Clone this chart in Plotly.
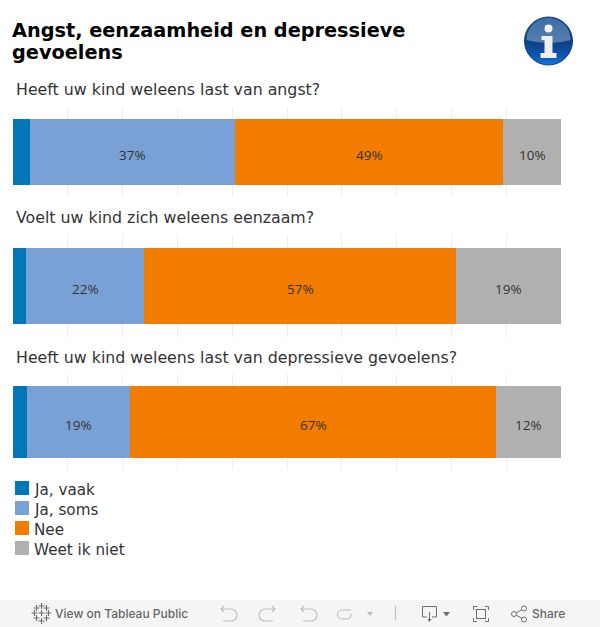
import base64
import plotly.graph_objects as go

TITLE_LINES = ["Angst, eenzaamheid en depressieve", "gevoelens"]
QUESTIONS = ["Heeft uw kind weleens last van angst?",
             "Voelt uw kind zich weleens eenzaam?",
             "Heeft uw kind weleens last van depressieve gevoelens?"]
SERIES = ["Ja, vaak", "Ja, soms", "Nee", "Weet ik niet"]
ja_vaak = [3.1, 2.4, 2.6]
ja_soms = [37.4, 21.5, 18.8]
nee = [49.0, 57.0, 66.8]
weet_niet = [10.5, 19.1, 11.8]
label_vaak = ["", "", ""]
label_soms = ["37%", "22%", "19%"]
label_nee = ["49%", "57%", "67%"]
label_weet = ["10%", "19%", "12%"]
COLORS = ["#0077B8", "#7AA1D6", "#F17C00", "#B0B0B0"]

W, H = 600, 627
PANELS = [(108, 196, 89), (235, 337, 217), (374, 470, 357)]  # top, bottom, question y
values = [ja_vaak, ja_soms, nee, weet_niet]
labels = [label_vaak, label_soms, label_nee, label_weet]


def py(v):
    return 1 - v / H


def svg_uri(body, w, h):
    s = f'<svg xmlns="http://www.w3.org/2000/svg" width="{w}" height="{h}" viewBox="0 0 {w} {h}">{body}</svg>'
    return "data:image/svg+xml;base64," + base64.b64encode(s.encode()).decode()


fig = go.Figure()
layout_axes = {}
ann = []
for p, (top, bot, _) in enumerate(PANELS):
    sfx = "" if p == 0 else str(p + 1)
    start = 0
    for s, name in enumerate(SERIES):
        val = values[s][p]
        fig.add_trace(go.Bar(
            x=[val], y=[QUESTIONS[p]], name=name, orientation="h",
            marker=dict(color=COLORS[s], line=dict(width=0)),
            customdata=[labels[s][p]],
            xaxis="x" + sfx, yaxis="y" + sfx, showlegend=False,
            hovertemplate="%{y}<br>" + name + ": %{customdata}<extra></extra>"))
        if labels[s][p]:
            ann.append(dict(x=start + val / 2, y=QUESTIONS[p], xref="x" + sfx, yref="y" + sfx,
                            text=labels[s][p], showarrow=False, yshift=-3, xanchor="center",
                            yanchor="middle",
                            font=dict(family="Open Sans", size=13.5, color="#333333")))
        start += val
    layout_axes["xaxis" + sfx] = dict(
        domain=[13 / W, 561 / W], range=[0, 100], dtick=10, showgrid=True,
        gridcolor="#EDEDED", gridwidth=1, showticklabels=False, zeroline=False,
        showline=False, ticks="", anchor="y" + sfx)
    layout_axes["yaxis" + sfx] = dict(
        domain=[py(bot), py(top)], showticklabels=False, showgrid=False,
        zeroline=False, showline=False, ticks="", anchor="x" + sfx)


def text(x, y, t, size, color, family="DejaVu Sans", weight=None):
    f = dict(family=family, size=size, color=color)
    if weight:
        f["weight"] = weight
    ann.append(dict(x=x / W, y=py(y), xref="paper", yref="paper", text=t, showarrow=False,
                    xanchor="left", yanchor="middle", font=f, borderpad=0))


text(11, 30, f"<b>{TITLE_LINES[0]}</b>", 19.3, "#000000")
text(11, 52.6, f"<b>{TITLE_LINES[1]}</b>", 19.3, "#000000")
for q, (_, _, y) in zip(QUESTIONS, PANELS):
    text(15, y + 0.5, q, 15.8, "#333333")

shapes = []
for i, name in enumerate(SERIES):
    top = 481 + 20 * i
    shapes.append(dict(type="rect", xref="paper", yref="paper", x0=15 / W, x1=29 / W,
                       y0=py(top + 14), y1=py(top), fillcolor=COLORS[i], line=dict(width=0)))
    text(33, top + 9, name, 15.2, "#333333")

# toolbar
shapes.insert(0, dict(type="rect", xref="paper", yref="paper", x0=0, x1=1, y0=0, y1=py(600),
                      fillcolor="#F5F5F5", line=dict(width=0), layer="below"))
text(54, 613.5, "View on Tableau Public", 12, "#666666", family="Inter", weight=500)
text(531, 613.5, "Share", 12, "#666666", family="Inter", weight=500)

info_svg = '''<defs>
<linearGradient id="g" x1="0" y1="0" x2="0" y2="1">
<stop offset="0" stop-color="#1D5596"/><stop offset="0.55" stop-color="#0B4389"/>
<stop offset="0.85" stop-color="#0A5AB8"/><stop offset="1" stop-color="#0B7CE6"/></linearGradient>
<linearGradient id="h" x1="0" y1="0" x2="0" y2="1">
<stop offset="0" stop-color="#FFFFFF" stop-opacity="0.15"/><stop offset="1" stop-color="#FFFFFF" stop-opacity="0.32"/></linearGradient>
<filter id="b"><feGaussianBlur stdDeviation="0.4"/></filter></defs>
<g filter="url(#b)">
<circle cx="25" cy="25" r="24" fill="url(#g)" stroke="#123F78" stroke-width="1"/>
<path d="M3 24A22 22 0 0 1 47 24Q25 30 3 24Z" fill="url(#h)"/>
<circle cx="25" cy="12.5" r="4" fill="#F2F2F2"/>
<path d="M18 20H29V37H33V42H17V37H21V24H18Z" fill="#EEEEEE"/></g>'''

g = "#BDBDBD"
d = "#6E6E6E"
star = "".join(f'<path d="M{x} {y-3}V{y+3}M{x-3} {y}H{x+3}" stroke="{d}" stroke-width="1.1" fill="none"/>'
               for x, y in [(41.5, 13), (41.5, 6), (41.5, 21), (34.5, 13), (48.5, 13), (36.5, 8), (46.5, 8), (36.5, 18), (46.5, 18)])
toolbar_svg = star + f'''
<g fill="none" stroke="{g}" stroke-width="1.1">
<path d="M221 9H231A5.5 5.5 0 0 1 231 21H223M224 6L221 9L224 12"/>
<path d="M275 9H265A5.5 5.5 0 0 0 265 21H273M272 6L275 9L272 12"/>
<path d="M301 9H311A5.5 5.5 0 0 1 311 21H303M304 6L301 9L304 12"/>
<path d="M351 10H342A4.5 4.5 0 0 0 342 19H347A4.5 4.5 0 0 0 351 14"/>
<path d="M395.5 6V20"/></g>
<path d="M367 12H373L370 16Z" fill="{g}"/>
<g fill="none" stroke="{d}" stroke-width="1">
<path d="M427 17H422.5V6.5H436.5V17H432M429.5 12V21"/>
<path d="M477 6.5H473.5V10M485 6.5H488.5V10M477 21.5H473.5V18M485 21.5H488.5V18"/>
<rect x="476.5" y="9.5" width="9" height="9"/>
<circle cx="514" cy="14" r="2.5"/><circle cx="524" cy="8.5" r="2.5"/><circle cx="524" cy="19.5" r="2.5"/>
<path d="M516.3 12.8L521.8 9.7M516.3 15.2L521.8 18.3"/></g>
<path d="M427.5 19H431.5L429.5 22Z" fill="{d}"/>
<path d="M443 12H450L446.5 16.5Z" fill="{d}"/>'''

images = [
    dict(source=svg_uri(info_svg, 50, 50), xref="paper", yref="paper", x=523.5 / W, y=py(16),
         sizex=50 / W, sizey=50 / H, xanchor="left", yanchor="top", sizing="stretch", layer="above"),
    dict(source=svg_uri(toolbar_svg, 600, 27), xref="paper", yref="paper", x=0, y=py(600),
         sizex=1, sizey=27 / H, xanchor="left", yanchor="top", sizing="stretch", layer="above"),
]

fig.update_layout(width=W, height=H, margin=dict(l=0, r=0, t=0, b=0, pad=0),
                  barmode="stack", bargap=0.25, paper_bgcolor="#FFFFFF", plot_bgcolor="#FFFFFF",
                  showlegend=False, annotations=ann, shapes=shapes, images=images, **layout_axes)
fig.write_html("out.html", config={"displayModeBar": False},
               post_script="document.body.style.margin='0';document.documentElement.style.overflow='hidden';")
